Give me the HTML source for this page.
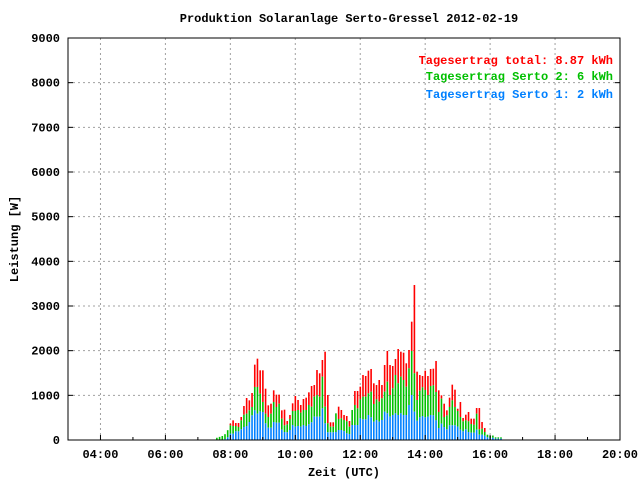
<!DOCTYPE html>
<html><head><meta charset="utf-8"><style>
body{margin:0;background:#fff;}
svg text{font-family:"Liberation Mono","DejaVu Sans Mono",monospace;font-weight:bold;font-size:12px;}
</style></head><body>
<svg id="chart" width="640" height="480" xmlns="http://www.w3.org/2000/svg">
<rect x="0" y="0" width="640" height="480" fill="#fff"/>
<text x="349" y="22" text-anchor="middle">Produktion Solaranlage Serto-Gressel 2012-02-19</text>
<g id="grid"></g>
<g id="bars"></g>
<g id="axes"></g>
<text transform="translate(18,239) rotate(-90)" text-anchor="middle">Leistung [W]</text>
<text x="344" y="476" text-anchor="middle">Zeit (UTC)</text>
<text x="613" y="64" text-anchor="end" fill="#ff0000">Tagesertrag total: 8.87 kWh</text>
<text x="613" y="80" text-anchor="end" fill="#00c000">Tagesertrag Serto 2: 6 kWh</text>
<text x="613" y="98" text-anchor="end" fill="#0080ff">Tagesertrag Serto 1: 2 kWh</text>
</svg>
<script>
const startMinute = 455; // 07:35
const stepMinutes = 5;
const total = [50,70,90,130,220,366,440,380,380,515,761,940,888,1052,1687,1821,1560,1560,1149,776,813,1112,1015,1015,664,679,
425,560,821,985,896,784,918,948,1067,1209,1231,1567,1493,1791,1977,1007,396,396,597,746,672,560,537,425,672,1097,1097,
1194,1455,1433,1552,1590,1269,1231,1343,1231,1679,1993,1679,1657,1814,2037,1977,1955,1717,2015,2649,3470,1530,1455,1433,1552,1433,1590,
1597,1769,1112,1000,813,664,948,1239,1127,700,851,493,567,627,478,478,716,716,403,269,119,90,100,60,60,60];
const serto1 = [0,0,0,20,60,142,142,194,194,240,291,313,403,552,664,590,640,627,373,276,276,403,388,388,231,179,
172,224,336,298,314,298,336,314,351,396,522,522,522,709,373,172,172,172,179,224,224,200,149,134,336,336,336,
485,463,463,560,507,410,448,410,448,634,597,522,560,597,560,597,560,560,784,1007,634,433,507,537,507,522,560,
552,440,269,366,291,240,329,329,329,300,231,194,240,179,164,164,231,120,120,97,60,40,50,30,30,30];
const serto2 = [50,70,90,110,160,187,171,119,97,200,276,277,261,187,523,597,398,224,217,239,314,448,351,425,247,150,
179,246,313,351,358,314,336,358,433,350,448,485,448,709,373,201,126,126,418,246,261,248,269,164,336,448,373,
425,507,507,485,575,396,462,448,485,448,709,485,597,858,709,821,783,634,821,986,859,463,597,642,613,485,649,
672,635,358,559,224,312,410,559,410,350,284,224,200,239,194,179,359,119,134,82,59,50,50,30,30,30];
const yTicks = [0,1000,2000,3000,4000,5000,6000,7000,8000,9000];
const xTickHours = [4,6,8,10,12,14,16,18,20];

const NS = "http://www.w3.org/2000/svg";
const L=68,R=620,T=38,B=440;
const tMin=180,tMax=1200,vMax=9000;
const xs = m => L + (m - tMin)/(tMax - tMin)*(R-L);
const ys = v => B - v/vMax*(B-T);
function mk(tag, attrs, parent){const e=document.createElementNS(NS,tag);for(const k in attrs)e.setAttribute(k,attrs[k]);parent.appendChild(e);return e;}
const grid=document.getElementById('grid'), bars=document.getElementById('bars'), axes=document.getElementById('axes');

yTicks.forEach(v=>{
  const y=ys(v);
  if(v>0&&v<vMax){const g=mk('line',{x1:L,x2:R,y1:y,y2:y,stroke:'#a0a0a0','stroke-dasharray':'2,3'},grid);
  
  }
  const t=mk('text',{x:60,y:y+4,'text-anchor':'end'},axes);
  t.textContent=v;
  
  
  mk('line',{x1:L,x2:L+5,y1:y,y2:y,stroke:'#000'},axes);
  mk('line',{x1:R,x2:R-5,y1:y,y2:y,stroke:'#000'},axes);
});
xTickHours.forEach(h=>{
  const x=xs(h*60);
  if(h<20){const g=mk('line',{x1:x,x2:x,y1:T,y2:B,stroke:'#a0a0a0','stroke-dasharray':'2,3'},grid);
  
  }
  const t=mk('text',{x:x,y:458,'text-anchor':'middle'},axes);
  t.textContent=(h<10?'0':'')+h+':00';
  
  
  mk('line',{x1:x,x2:x,y1:B,y2:B-5,stroke:'#000'},axes);
  const xm=xs(h*60-60);
  mk('line',{x1:xm,x2:xm,y1:B,y2:B-3,stroke:'#000'},axes);
});
total.forEach((tv,i)=>{
  const x=xs(startMinute+i*stepMinutes)-0.75;
  const b=serto1[i], g=b+serto2[i];
  const r=mk('rect',{x:x,y:ys(tv),width:1.6,height:ys(g)-ys(tv),fill:'#ff0000'},bars);
  
  
  const gr=mk('rect',{x:x,y:ys(g),width:1.6,height:ys(b)-ys(g),fill:'#00c000'},bars);
  
  
  const bl=mk('rect',{x:x,y:ys(b),width:1.6,height:B-ys(b),fill:'#0080ff'},bars);
  
  
});
const f=mk('rect',{x:L,y:T,width:R-L,height:B-T,fill:'none',stroke:'#000','stroke-width':1},axes);


</script>
</body></html>
